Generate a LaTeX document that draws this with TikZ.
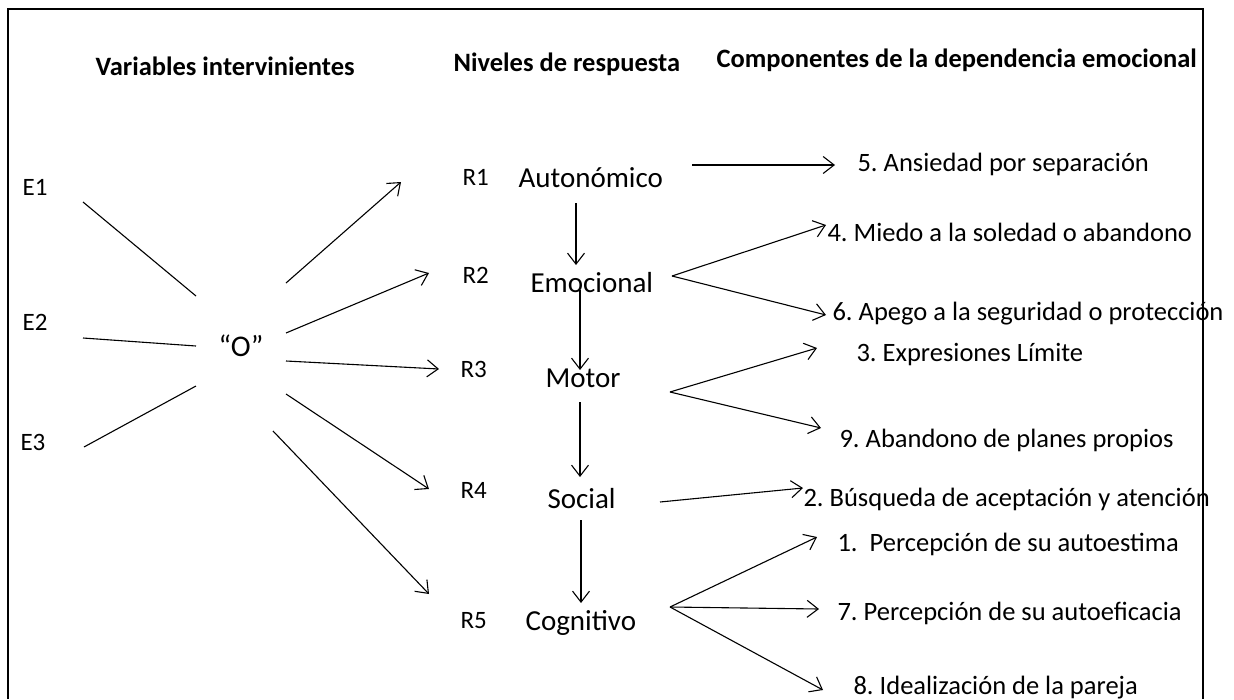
\documentclass[tikz,border=0pt]{standalone}
\usepackage{fontspec}
\setmainfont{Carlito}
\usetikzlibrary{arrows.meta}
\frenchspacing
\begin{document}
\begin{tikzpicture}[x=1pt,y=-1pt,line width=1.1pt,
  arr/.style={-{Straight Barb[length=11pt,width=17pt]}},
  ttl/.style={anchor=base west,inner sep=0pt,font=\fontsize{26.5}{30}\selectfont\bfseries},
  elbl/.style={anchor=base west,inner sep=0pt,font=\fontsize{25}{30}\selectfont},
  lvl/.style={anchor=base west,inner sep=0pt,font=\fontsize{29}{34}\selectfont},
  comp/.style={anchor=base west,inner sep=0pt,font=\fontsize{26.5}{30}\selectfont}]
\useasboundingbox (0,0) rectangle (1234,699);
% frame
\draw (8,699) -- (8,9) -- (1203,9) -- (1203,699);
% titles
\node[ttl] (t1) at (95,75) {Variables intervinientes};
\node[ttl] (t2) at (453,71) {Niveles de respuesta};
\node[ttl] (t3) at (716,67) {Componentes de la dependencia emocional};
% E labels and O
\node[elbl] (E1) at (22,195) {E1};
\node[elbl] (E2) at (22,330) {E2};
\node[elbl] (E3) at (20,450) {E3};
\node[anchor=base west,inner sep=0pt,font=\fontsize{30}{36}\selectfont] (O) at (218,356) {“O”};
% R labels
\node[elbl] (R1) at (462,185) {R1};
\node[elbl] (R2) at (462,283) {R2};
\node[elbl] (R3) at (460,377) {R3};
\node[elbl] (R4) at (460,498) {R4};
\node[elbl] (R5) at (460,628) {R5};
% levels
\node[lvl] (aut) at (518,187) {Autonómico};
\node[lvl] (emo) at (530,292) {Emocional};
\node[lvl] (mot) at (545,387) {Motor};
\node[lvl] (soc) at (547,508) {Social};
\node[lvl] (cog) at (525,630) {Cognitivo};
% components
\node[comp] (c5) at (857,171) {5. Ansiedad por separación};
\node[comp] (c4) at (827,241) {4. Miedo a la soledad o abandono};
\node[comp] (c6) at (832,320) {6. Apego a la seguridad o protección};
\node[comp] (c3) at (856,361) {3. Expresiones Límite};
\node[comp] (c9) at (839,447) {9. Abandono de planes propios};
\node[comp] (c2) at (803,506) {2. Búsqueda de aceptación y atención};
\node[comp] (c1) at (837,551) {1.~~Percepción de su autoestima};
\node[comp] (c7) at (837,620) {7. Percepción de su autoeficacia};
\node[comp] (c8) at (853,694) {8. Idealización de la pareja};
% coordinates for connector ends
\coordinate (e1a) at (83,202);  \coordinate (e1b) at (196,296);
\coordinate (e2a) at (83,338);  \coordinate (e2b) at (196,346);
\coordinate (e3a) at (84,447);  \coordinate (e3b) at (196,386);
\coordinate (o1) at (286,283);  \coordinate (r1in) at (401,182);
\coordinate (o2) at (286,333);  \coordinate (r2in) at (429,273);
\coordinate (o3) at (286,361);  \coordinate (r3in) at (439,369);
\coordinate (o4) at (286,394);  \coordinate (r4in) at (429,489);
\coordinate (o5) at (273,431);  \coordinate (r5in) at (429,594);
\coordinate (v1a) at (576,203); \coordinate (v1b) at (576,265);
\coordinate (v2a) at (580,290); \coordinate (v2b) at (580,370);
\coordinate (v3a) at (580,402); \coordinate (v3b) at (580,477);
\coordinate (v4a) at (581,520); \coordinate (v4b) at (581,603);
\coordinate (autout) at (692,165); \coordinate (c5in) at (835,165);
\coordinate (emoout) at (672,276); \coordinate (c4in) at (826,225); \coordinate (c6in) at (826,315);
\coordinate (motout) at (670,392); \coordinate (c3in) at (817,348); \coordinate (c9in) at (821,428);
\coordinate (socout) at (660,502); \coordinate (c2in) at (803,488);
\coordinate (cogout) at (670,607); \coordinate (c1in) at (817,537); \coordinate (c7in) at (819,609); \coordinate (c8in) at (823,690);
% E lines
\draw (e1a) -- (e1b);
\draw (e2a) -- (e2b);
\draw (e3a) -- (e3b);
% O arrows
\draw[arr] (o1) -- (r1in);
\draw[arr] (o2) -- (r2in);
\draw[arr] (o3) -- (r3in);
\draw[arr] (o4) -- (r4in);
\draw[arr] (o5) -- (r5in);
% vertical chain
\draw[arr] (v1a) -- (v1b);
\draw[arr] (v2a) -- (v2b);
\draw[arr] (v3a) -- (v3b);
\draw[arr] (v4a) -- (v4b);
% to components
\draw[arr] (autout) -- (c5in);
\draw[arr] (emoout) -- (c4in);
\draw[arr] (emoout) -- (c6in);
\draw[arr] (motout) -- (c3in);
\draw[arr] (motout) -- (c9in);
\draw[arr] (socout) -- (c2in);
\draw[arr] (cogout) -- (c1in);
\draw[arr] (cogout) -- (c7in);
\draw[arr] (cogout) -- (c8in);
\end{tikzpicture}
\end{document}
